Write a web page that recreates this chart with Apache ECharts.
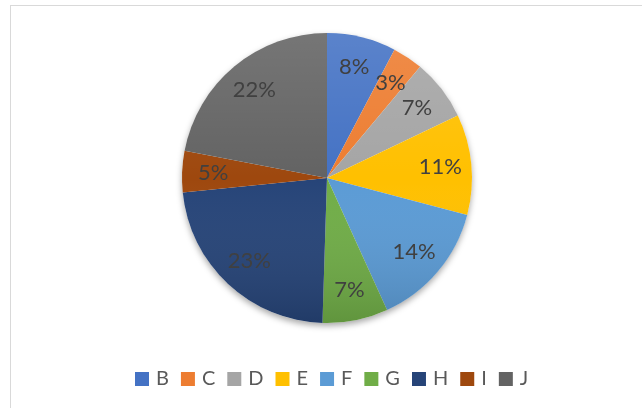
<!DOCTYPE html>
<html>
<head>
<meta charset="utf-8">
<script src="https://cdn.jsdelivr.net/npm/echarts@6/dist/echarts.min.js"></script>
<style>
html,body{margin:0;padding:0;background:#fff;}
#frame{position:absolute;left:10px;top:5px;width:700px;height:500px;border:1.5px solid #d9d9d9;box-sizing:border-box;}
#chart{position:absolute;left:0;top:0;width:642px;height:408px;}
</style>
</head>
<body>
<div id="frame"></div>
<div id="chart"></div>
<script>
const categories = ['B','C','D','E','F','G','H','I','J'];
const values = [7.7, 3.4, 6.8, 11.2, 14.1, 7.3, 22.9, 4.6, 22.0];
const colors = ['#4472C4','#ED7D31','#A5A5A5','#FFC000','#5B9BD5','#70AD47','#264478','#9E480E','#636363'];

const data = categories.map((c, i) => ({ name: c, value: values[i], itemStyle: { color: colors[i] } }));
const ringData = categories.map((c, i) => ({ name: c, value: values[i] }));

const chart = echarts.init(document.getElementById('chart'), null, { renderer: 'canvas' });
const center = [327, 178];
const R = 145;
chart.setOption({
  backgroundColor: 'transparent',
  animation: false,
  legend: {
    data: categories,
    left: 130,
    top: 364,
    icon: 'rect',
    itemWidth: 14,
    itemHeight: 14,
    itemGap: 12,
    selectedMode: false,
    textStyle: { fontFamily: 'Lato', fontSize: 20, color: '#595959', padding: [0, 0, 0, 2] }
  },
  series: [
    {
      type: 'pie', silent: true, center: center, radius: R, startAngle: 90,
      label: { show: false }, labelLine: { show: false },
      itemStyle: { color: '#ffffff', shadowBlur: 6, shadowOffsetY: 3, shadowColor: 'rgba(0,0,0,0.35)' },
      data: [{ name: '_shadow', value: 1 }]
    },
    {
      type: 'pie', name: 'main', center: center, radius: R, startAngle: 90, clockwise: true,
      silent: true,
      label: { show: false }, labelLine: { show: false },
      itemStyle: { borderWidth: 0 },
      data: data
    },
    {
      type: 'pie', silent: true, center: center, radius: R, startAngle: 90,
      label: { show: false }, labelLine: { show: false },
      itemStyle: {
        color: new echarts.graphic.LinearGradient(0, 0, 0, 1, [
          { offset: 0, color: 'rgba(255,255,255,0.12)' },
          { offset: 0.5, color: 'rgba(255,255,255,0)' },
          { offset: 1, color: 'rgba(0,0,0,0.14)' }
        ])
      },
      data: [{ name: '_overlay', value: 1 }]
    },
    {
      type: 'pie', silent: true, center: center, radius: [R * 0.53, R], startAngle: 90, clockwise: true,
      itemStyle: { color: 'rgba(0,0,0,0)' },
      labelLine: { show: false },
      label: {
        show: true, position: 'inside',
        fontFamily: 'Lato', fontSize: 22, color: '#404040',
        formatter: p => Math.round(p.percent) + '%'
      },
      data: ringData
    }
  ]
});
</script>
</body>
</html>
